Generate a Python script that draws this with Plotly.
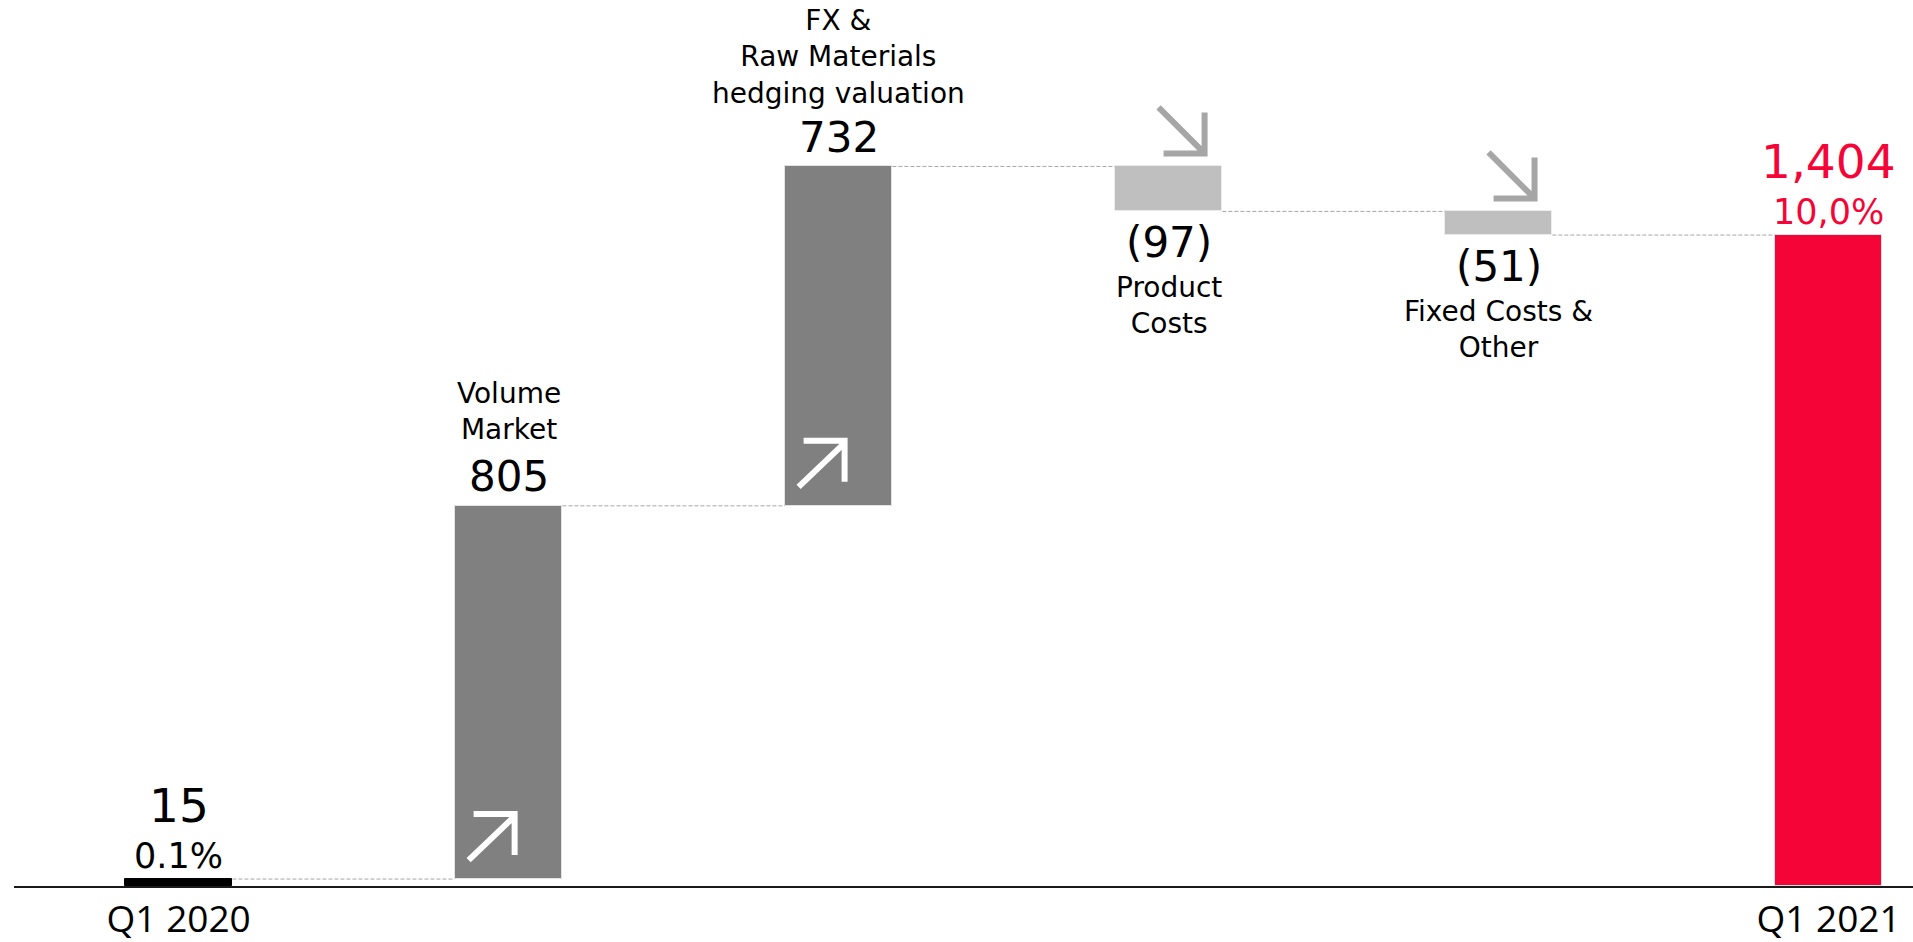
import plotly.graph_objects as go

# ---------------- data ----------------
categories = ["Q1 2020", "Volume<br>Market", "FX &<br>Raw Materials<br>hedging valuation",
              "Product<br>Costs", "Fixed Costs &<br>Other", "Q1 2021"]
values = [15, 805, 732, -97, -51, 1404]
measures = ["total", "relative", "relative", "relative", "relative", "total"]
value_labels = ["15", "805", "732", "(97)", "(51)", "1,404"]
margin_labels = ["0.1%", "", "", "", "", "10,0%"]
tick_labels = ["Q1 2020", "", "", "", "", "Q1 2021"]

# ---------------- styles ----------------
bar_colors = ["#000000", "#808080", "#808080", "#bfbfbf", "#bfbfbf", "#f50537"]
bar_edges = ["#000000", "#e3e3e3", "#e3e3e3", "#ececec", "#ececec", "#e3e3e3"]
RED = "#f50537"
TXT_FONT = "DejaVu Sans"
BAR_W = 0.326

# ---------------- waterfall geometry from data ----------------
xs = list(range(len(values)))
bases, heights, levels = [], [], []
running = 0
for v, m in zip(values, measures):
    if m == "total":
        b, h = 0, v
        running = v
    else:
        if v >= 0:
            b, h = running, v
        else:
            b, h = running + v, -v
        running += v
    bases.append(b)
    heights.append(h)
    levels.append(running)
tops = [b + h for b, h in zip(bases, heights)]

fig = go.Figure()
fig.add_trace(go.Bar(
    x=xs, y=heights, base=bases, width=BAR_W,
    marker=dict(color=bar_colors, line=dict(color=bar_edges, width=1)),
    hoverinfo="skip", showlegend=False,
))

# dashed connectors
cx, cy = [], []
for i in range(len(values) - 1):
    cx += [i + BAR_W / 2, i + 1 - BAR_W / 2, None]
    cy += [levels[i], levels[i], None]
fig.add_trace(go.Scatter(x=cx, y=cy, mode="lines",
                         line=dict(color="#a6a6a6", width=1, dash="4px,2px"),
                         hoverinfo="skip", showlegend=False))

# arrows (pixel-sized icons anchored on bars)
up_path = "M -35,65 L 6,65 L 6,24 M -40,19 L 4,61"
down_path = "M -5,13 L 36,13 L 36,54 M -10,59 L 33,16"
for i, m in enumerate(measures):
    if m != "relative":
        continue
    if values[i] >= 0:
        fig.add_shape(type="path", xref="x", yref="y", xsizemode="pixel", ysizemode="pixel",
                      xanchor=xs[i], yanchor=bases[i], path=up_path,
                      line=dict(color="white", width=6))
    else:
        fig.add_shape(type="path", xref="x", yref="y", xsizemode="pixel", ysizemode="pixel",
                      xanchor=xs[i], yanchor=tops[i], path=down_path,
                      line=dict(color="#a6a6a6", width=6))

# text labels
def ann(x, y, text, size, shift, color="black", family=TXT_FONT):
    fig.add_annotation(x=x, y=y, xref="x", yref="y", text=text, showarrow=False,
                       xanchor="center", yanchor="middle", yshift=shift,
                       font=dict(family=family, size=size, color=color))

for i, m in enumerate(measures):
    if m == "total":
        col = RED if i == len(values) - 1 else "black"
        ann(xs[i], tops[i], margin_labels[i], 35, 23, col)
        ann(xs[i], tops[i], value_labels[i], 47, 74, col)
    elif values[i] >= 0:
        ann(xs[i], tops[i], value_labels[i], 42, 29)
        shift = 94 if categories[i].count("<br>") == 1 else 109
        ann(xs[i], tops[i], categories[i], 28, shift)
    else:
        ann(xs[i], bases[i], value_labels[i], 42, -31)
        ann(xs[i], bases[i], categories[i], 28, -94)

fig.update_layout(
    width=1913, height=942,
    margin=dict(l=14, r=0, t=0, b=56, autoexpand=False),
    paper_bgcolor="white", plot_bgcolor="white",
    bargap=0,
    xaxis=dict(range=[-0.499, 5.256], tickmode="array", tickvals=xs, ticktext=tick_labels,
               ticks="", showgrid=False, zeroline=False, showline=True, automargin=False,
               linecolor="#1a1a1a", linewidth=2, ticklabelstandoff=0,
               tickfont=dict(family="Open Sans", size=37, color="black")),
    yaxis=dict(range=[0, 1911], visible=False, showgrid=False, zeroline=False, automargin=False),
)

fig.write_html("out.html", config={"displayModeBar": False},
               post_script="document.body.style.margin='0';document.body.style.overflow='hidden';")
